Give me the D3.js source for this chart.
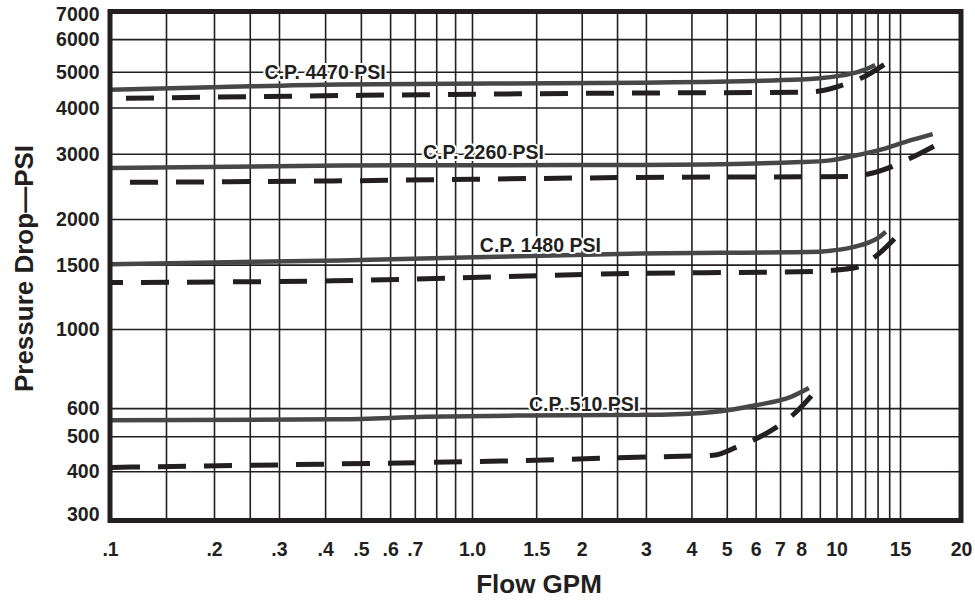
<!DOCTYPE html>
<html>
<head>
<meta charset="utf-8">
<script src="https://cdn.jsdelivr.net/npm/d3@7"></script>
<style>
  body { margin: 0; background: #fff; }
  svg { display: block; }
</style>
</head>
<body>
<div id="chart"></div>
<script>
// Data: flow (GPM) vs pressure drop (PSI)
const flow4470 = [0.1, 0.2, 0.44, 2.9, 8, 9.0, 10.25, 11.3, 12.0, 12.8];
const psi4470 = [4470, 4540, 4620, 4670, 4760, 4800, 4880, 4970, 5060, 5190];
const flow4470d = [0.1, 0.44, 2.9, 7.9, 8.9, 10.6, 11.8, 13.8];
const psi4470d = [4230, 4310, 4380, 4400, 4425, 4630, 4820, 5260];

const flow2260 = [0.1, 0.44, 2.9, 8, 9.6, 10.9, 13.2, 15.5, 17.5];
const psi2260 = [2745, 2790, 2800, 2850, 2880, 2950, 3075, 3240, 3390];
const flow2260d = [0.1, 0.42, 2.9, 10.9, 12.25, 14.5, 15.85, 17.8];
const psi2260d = [2510, 2535, 2590, 2605, 2645, 2790, 2930, 3170];

const flow1480 = [0.1, 0.44, 2.9, 9.0, 9.5, 11.1, 12.2, 13.2, 13.7];
const psi1480 = [1505, 1540, 1610, 1628, 1635, 1675, 1720, 1790, 1845];
const flow1480d = [0.1, 0.42, 2.9, 8.8, 9.8, 10.9, 11.6, 12.8, 14.6];
const psi1480d = [1340, 1355, 1420, 1438, 1448, 1464, 1482, 1577, 1782];

const flow510 = [0.1, 0.44, 0.75, 1.44, 3.3, 4.6, 6.0, 7.5, 8.4];
const psi510 = [555, 558, 567, 572, 575, 585, 611, 645, 683];
const flow510d = [0.1, 0.42, 1.2, 3.3, 4.0, 4.6, 5.4, 6.06, 6.97, 7.72, 8.65];
const psi510d = [410, 419, 427, 439, 441, 443, 470, 494, 537, 583, 659];

const curveLabels = ['C.P. 4470 PSI', 'C.P. 2260 PSI', 'C.P. 1480 PSI', 'C.P. 510 PSI'];
const labelFlow = [0.4, 1.075, 1.54, 2.03];
const labelPsi = [4770, 2900, 1628, 590];

const xGrid = [0.15, 0.2, 0.25, 0.3, 0.4, 0.5, 0.6, 0.7, 0.8, 0.9, 1, 1.5, 2, 2.5, 3, 4, 5, 6, 7, 8, 9, 10, 11, 12, 13, 14, 15];
const xTicks = [0.1, 0.2, 0.3, 0.4, 0.5, 0.6, 0.7, 1, 1.5, 2, 3, 4, 5, 6, 7, 8, 10, 15, 20];
const xTickLabels = ['.1', '.2', '.3', '.4', '.5', '.6', '.7', '1.0', '1.5', '2', '3', '4', '5', '6', '7', '8', '10', '15', '20'];
const yGrid = [400, 500, 600, 1000, 1500, 2000, 3000, 4000, 5000, 6000];
const yTicks = [300, 400, 500, 600, 1000, 1500, 2000, 3000, 4000, 5000, 6000, 7000];

// Layout
const W = 975, H = 601;
const plot = { left: 110, right: 961, top: 11.5, bottom: 520.5 };
const ink = '#231f20';
const font = '"Liberation Sans", Arial, Helvetica, sans-serif';

// the printed log grid is slightly uneven, so use a piecewise log scale
const x = d3.scaleLog()
  .domain([0.1, 0.15, 0.2, 1, 10, 15, 20])
  .range([plot.left, 166, 214, 472, 836.5, 900, plot.right]);
const y = d3.scaleLog()
  .domain([300, 400, 500, 1000, 2000, 5000, 7000])
  .range([plot.bottom, 471.3, 436.3, 329, 219, 71.7, plot.top]);

const svg = d3.select('#chart').append('svg')
  .attr('width', W)
  .attr('height', H)
  .style('font-family', font)
  .style('font-weight', 'bold');

// Grid
svg.append('g')
  .attr('transform', `translate(0,${plot.bottom})`)
  .call(d3.axisBottom(x).tickValues(xGrid).tickSize(-(plot.bottom - plot.top)).tickFormat(''))
  .call(g => g.select('.domain').remove())
  .call(g => g.selectAll('line').attr('stroke', ink).attr('stroke-width', 1.6));

svg.append('g')
  .attr('transform', `translate(${plot.left},0)`)
  .call(d3.axisLeft(y).tickValues(yGrid).tickSize(-(plot.right - plot.left)).tickFormat(''))
  .call(g => g.select('.domain').remove())
  .call(g => g.selectAll('line').attr('stroke', ink).attr('stroke-width', 1.6));

// Curves
const line = d3.line()
  .x(d => x(d[0]))
  .y(d => y(d[1]))
  .curve(d3.curveMonotoneX);

const curves = [
  { flow: flow4470, psi: psi4470, dashed: false },
  { flow: flow4470d, psi: psi4470d, dashed: true, offset: 30 },
  { flow: flow2260, psi: psi2260, dashed: false },
  { flow: flow2260d, psi: psi2260d, dashed: true, offset: 26 },
  { flow: flow1480, psi: psi1480, dashed: false },
  { flow: flow1480d, psi: psi1480d, dashed: true, offset: 15 },
  { flow: flow510, psi: psi510, dashed: false },
  { flow: flow510d, psi: psi510d, dashed: true, offset: 44 }
];

svg.append('g')
  .selectAll('path')
  .data(curves)
  .join('path')
  .attr('d', c => line(d3.zip(c.flow, c.psi)))
  .attr('fill', 'none')
  .attr('stroke', c => c.dashed ? ink : '#474747')
  .attr('stroke-width', c => c.dashed ? 5 : 4.5)
  .attr('stroke-dasharray', c => c.dashed ? '28,18' : null)
  .attr('stroke-dashoffset', c => c.dashed ? c.offset : null);

// Frame
svg.append('rect')
  .attr('x', plot.left)
  .attr('y', plot.top)
  .attr('width', plot.right - plot.left)
  .attr('height', plot.bottom - plot.top)
  .attr('fill', 'none')
  .attr('stroke', ink)
  .attr('stroke-width', 5);

// Tick labels
svg.append('g')
  .attr('transform', `translate(0,${plot.bottom})`)
  .call(d3.axisBottom(x).tickValues(xTicks).tickSize(0).tickPadding(22)
    .tickFormat((d, i) => xTickLabels[i]))
  .call(g => g.select('.domain').remove())
  .call(g => g.selectAll('text')
    .attr('fill', ink)
    .style('font-family', font)
    .style('font-weight', 'bold')
    .style('font-size', '19.5px'));

svg.append('g')
  .attr('transform', `translate(${plot.left},0)`)
  .call(d3.axisLeft(y).tickValues(yTicks).tickSize(0).tickPadding(10.5)
    .tickFormat(d3.format('d')))
  .call(g => g.select('.domain').remove())
  .call(g => g.selectAll('.tick')
    .attr('transform', d => `translate(0,${Math.max(14, Math.min(513.5, y(d)))})`))
  .call(g => g.selectAll('text')
    .attr('fill', ink)
    .attr('dy', '0.36em')
    .style('font-family', font)
    .style('font-weight', 'bold')
    .style('font-size', '19.5px'));

// Curve labels with white halo over the grid
svg.append('g')
  .selectAll('text')
  .data(curveLabels)
  .join('text')
  .attr('x', (d, i) => x(labelFlow[i]))
  .attr('y', (d, i) => y(labelPsi[i]))
  .attr('text-anchor', 'middle')
  .attr('fill', ink)
  .attr('stroke', '#fff')
  .attr('stroke-width', 4)
  .attr('stroke-linejoin', 'round')
  .attr('paint-order', 'stroke')
  .style('font-size', '19.5px')
  .text(d => d);

// Axis titles
svg.append('text')
  .attr('x', 539)
  .attr('y', 593)
  .attr('text-anchor', 'middle')
  .attr('fill', ink)
  .style('font-size', '26px')
  .text('Flow GPM');

svg.append('text')
  .attr('transform', 'translate(32.5,268.5) rotate(-90)')
  .attr('text-anchor', 'middle')
  .attr('fill', ink)
  .style('font-size', '26px')
  .text('Pressure Drop—PSI');
</script>
</body>
</html>
